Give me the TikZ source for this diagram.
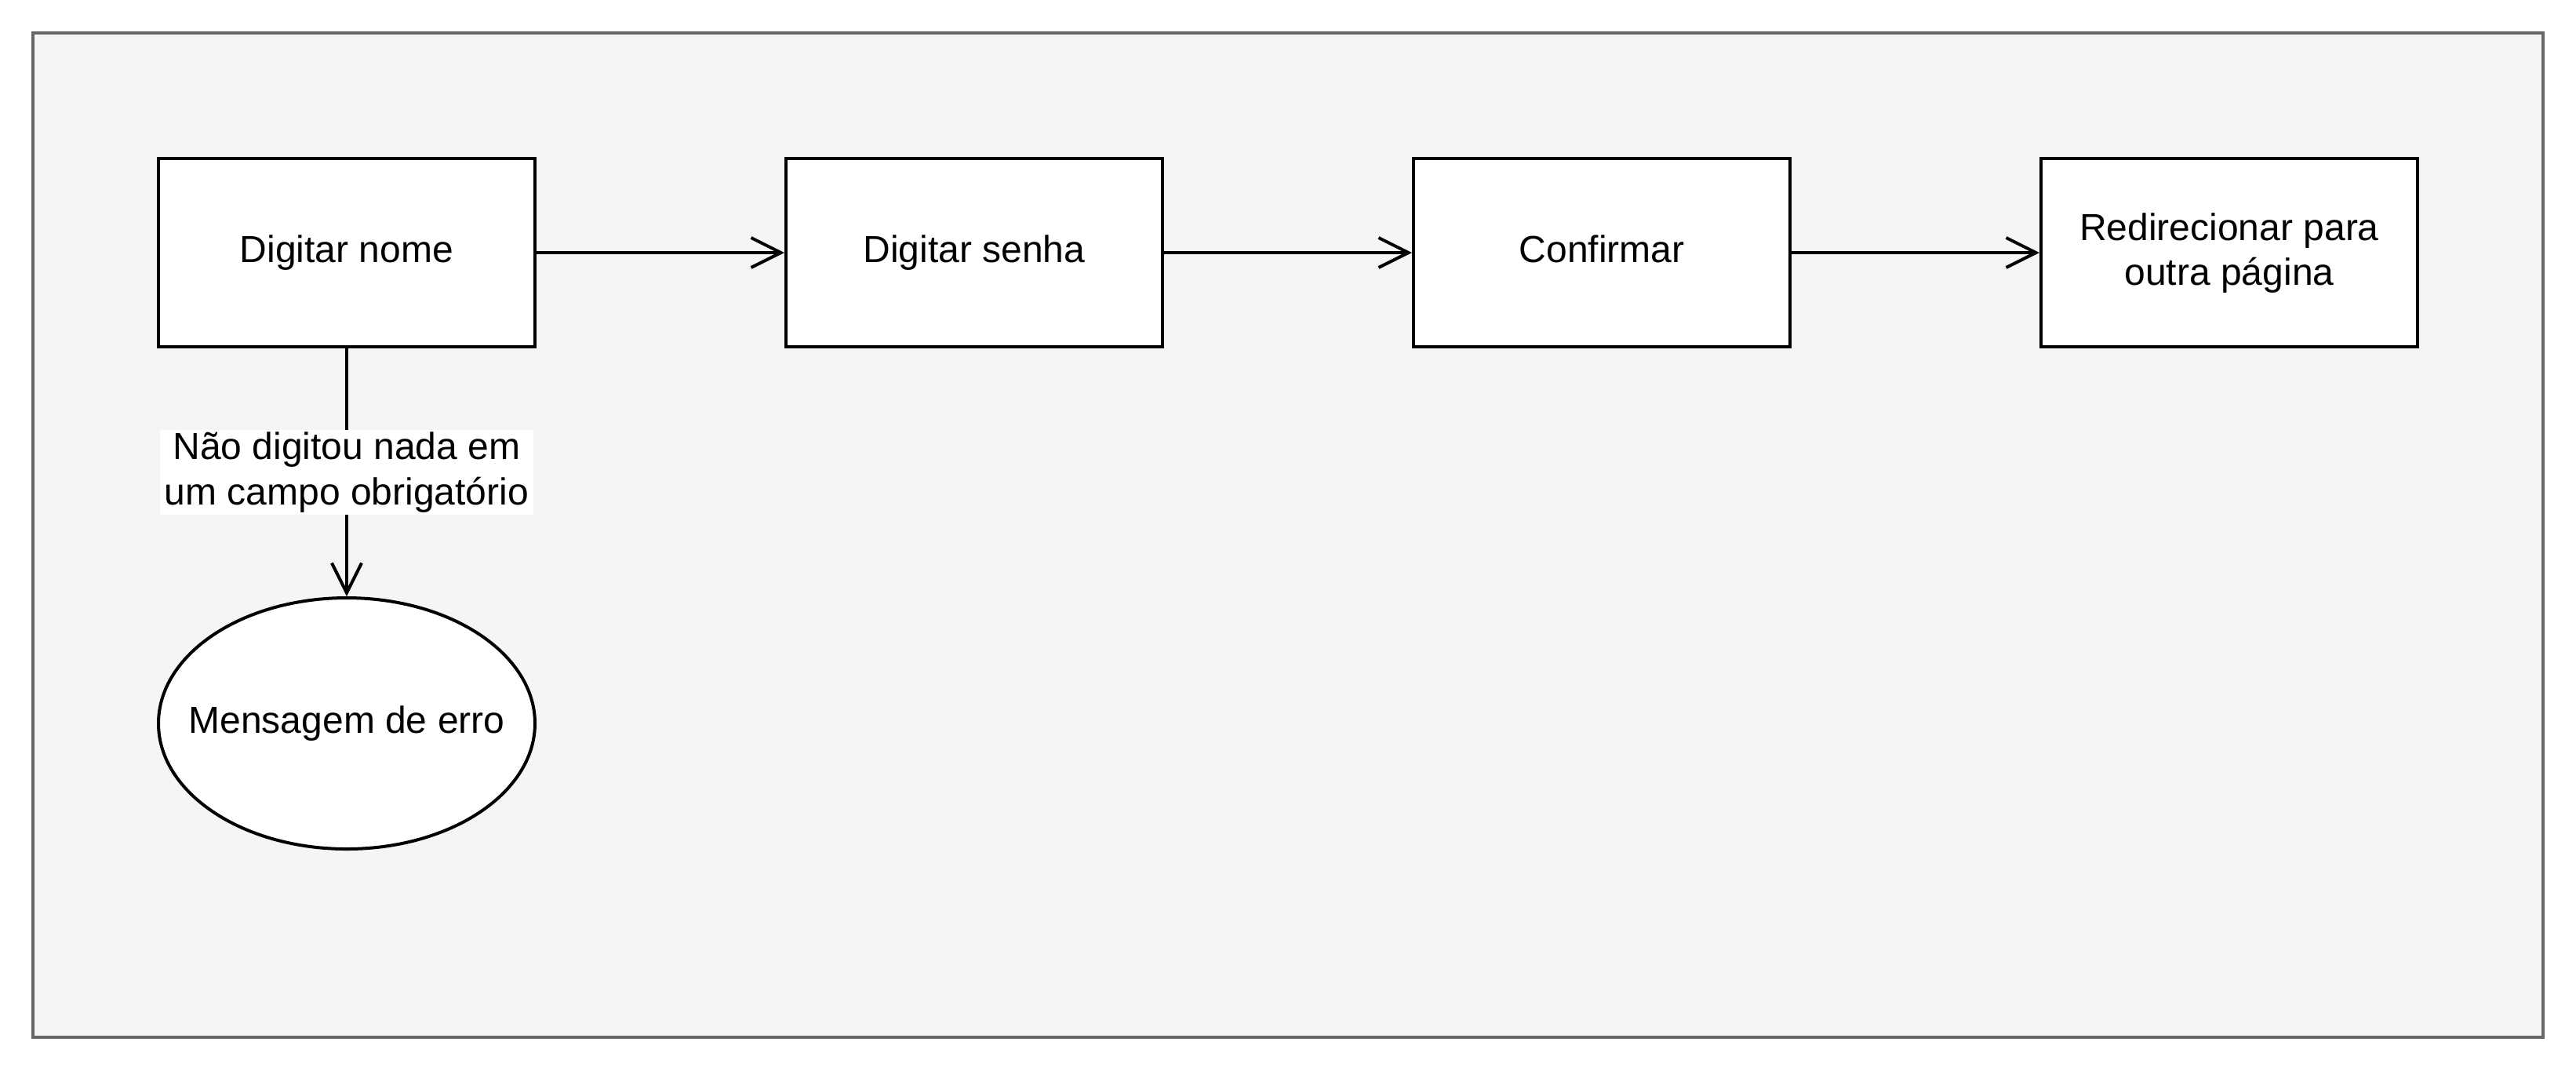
\documentclass[tikz,border=0pt]{standalone}
\usepackage{fontspec}
\setmainfont{Liberation Sans}
\usetikzlibrary{arrows.meta,shapes.geometric}
\definecolor{framegray}{HTML}{666666}
\definecolor{framefill}{HTML}{F5F5F5}
\newcommand{\topstrut}{\rule{0pt}{10.4pt}}
\newcommand{\botstrut}{\rule[-4pt]{0pt}{4pt}}
\begin{document}
\begin{tikzpicture}[x=1pt,y=-1pt,
  txt/.style={font=\fontsize{12}{14.4}\selectfont,text=black},
  frame/.style={draw=framegray,fill=framefill,line width=1pt,minimum width=800pt,minimum height=320pt,inner sep=0pt},
  stepbox/.style={txt,draw=black,fill=white,line width=1pt,minimum width=120pt,minimum height=60pt,inner sep=0pt,align=center},
  errbox/.style={txt,ellipse,draw=black,fill=white,line width=1pt,minimum width=120pt,minimum height=80pt,inner sep=0pt},
  flow/.style={draw=black,line width=1pt,-{Straight Barb[length=9.5pt,width=9.5pt,line width=1pt]}},
  lbl/.style={txt,fill=white,inner xsep=1.5pt,inner ysep=0.8pt,align=center}
]
\useasboundingbox (0,0) rectangle (821,341);
\node[frame] (frm) at (410.5,170.5) {};
\node[stepbox] (n1) at (110.5,80.5) {\topstrut Digitar nome\botstrut};
\node[stepbox] (n2) at (310.5,80.5) {\topstrut Digitar senha\botstrut};
\node[stepbox] (n3) at (510.5,80.5) {\topstrut Confirmar\botstrut};
\node[stepbox] (n4) at (710.5,80.5) {\topstrut Redirecionar para\\outra página\botstrut};
\node[errbox] (e1) at (110.5,230.5) {\makebox[0pt]{\topstrut Mensagem de erro\botstrut}};
\draw[flow] (n1) -- (n2);
\draw[flow] (n2) -- (n3);
\draw[flow] (n3) -- (n4);
\draw[flow] (n1) -- node[lbl] (l1) {Não digitou nada em\\um campo obrigatório} (e1);
\end{tikzpicture}
\end{document}
